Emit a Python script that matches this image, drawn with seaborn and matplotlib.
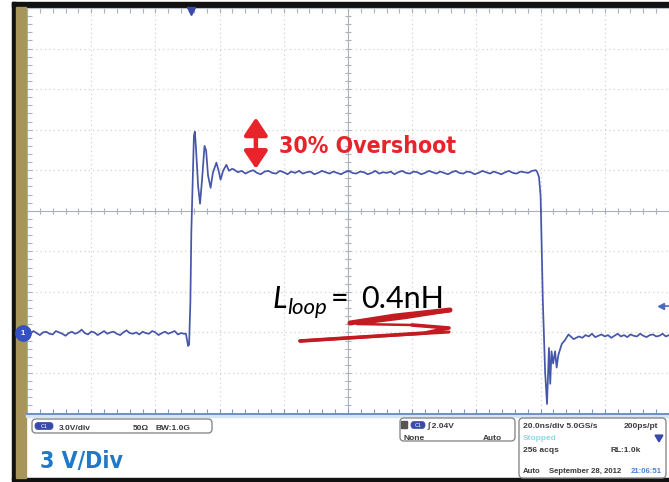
import numpy as np
import pandas as pd
import matplotlib
matplotlib.use("Agg")
import matplotlib.pyplot as plt
import seaborn as sns
from matplotlib import font_manager
from matplotlib.patches import Rectangle, FancyBboxPatch, FancyArrowPatch
from matplotlib.lines import Line2D
from matplotlib.transforms import Affine2D

# ---------------- scope settings ----------------
VOLTS_PER_DIV = 3.0
NS_PER_DIV = 20.0
N_HDIV = 10
N_VDIV = 10
TRIGGER_TIME_NS = -49.0
TRIGGER_LEVEL_V = 2.04
GROUND_V = -9.05

# ---------------- captured waveform (ns, V) ----------------
pre_t = np.linspace(-100.0, -51.0, 50)
pre_v = [-9.0, -9.1, -8.9, -9.05, -9.2, -9.0, -8.95, -9.1, -9.15, -8.9,
         -9.0, -9.1, -9.25, -9.05, -8.95, -9.1, -9.0, -8.8, -9.05, -9.15,
         -8.95, -9.0, -9.2, -9.05, -8.9, -9.1, -9.0, -8.95, -9.1, -9.2,
         -9.0, -8.85, -9.05, -9.1, -9.0, -9.15, -8.95, -9.05, -9.1, -8.9,
         -9.0, -9.2, -9.05, -8.95, -9.1, -9.0, -8.9, -9.15, -9.05, -9.1]

rise_t = [-50.5, -49.8, -49.5, -49.1, -48.8, -48.3, -48.0, -47.7, -47.4, -46.7,
          -46.1, -45.5, -44.7, -44.2, -43.6, -42.8, -42.1, -41.0, -40.3, -39.7,
          -38.9, -37.9, -37.1, -36.1]
rise_v = [-9.1, -10.0, -9.9, -6.7, -1.5, 2.96, 5.56, 5.85, 4.8, 1.85,
          0.52, 2.2, 4.8, 4.45, 2.6, 1.7, 2.8, 3.56, 2.96, 2.3,
          2.96, 3.4, 2.96, 3.1]

flat_t = np.linspace(-35.5, 58.5, 80)
flat_v = [3.05, 2.85, 2.95, 2.75, 2.9, 3.0, 2.8, 2.7, 2.9, 2.95,
          2.8, 2.75, 2.95, 2.85, 2.7, 2.9, 2.8, 2.95, 2.75, 2.85,
          2.9, 2.7, 2.8, 2.95, 2.85, 2.75, 2.9, 2.8, 2.7, 2.85,
          2.95, 2.8, 2.75, 2.9, 2.85, 2.7, 2.8, 2.95, 2.75, 2.85,
          2.8, 2.9, 2.7, 2.85, 2.95, 2.8, 2.75, 2.9, 2.85, 2.7,
          2.8, 2.95, 2.85, 2.75, 2.9, 2.8, 2.7, 2.85, 2.95, 2.8,
          2.75, 2.9, 2.85, 2.7, 2.8, 2.95, 2.85, 2.75, 2.9, 2.8,
          2.7, 2.85, 2.95, 2.8, 2.75, 2.9, 2.85, 2.8, 2.95, 3.0]

fall_t = [58.9, 59.5, 60.0, 60.3, 60.7, 61.4, 62.0, 62.6, 63.0, 63.4,
          63.9, 64.5, 65.0, 65.5, 66.6, 67.5, 68.7, 70.3, 71.9]
fall_v = [2.89, 2.5, 1.1, -2.2, -6.7, -11.9, -14.3, -10.15, -12.8, -10.4,
          -11.3, -10.4, -11.6, -10.7, -9.85, -9.6, -9.15, -9.5, -9.3]

post_t = np.linspace(73.0, 100.0, 28)
post_v = [-9.4, -9.2, -9.3, -9.1, -9.35, -9.25, -9.15, -9.3, -9.2, -9.4,
          -9.25, -9.1, -9.3, -9.2, -9.35, -9.15, -9.25, -9.3, -9.1, -9.25,
          -9.35, -9.2, -9.15, -9.3, -9.25, -9.1, -9.3, -9.2]

trace = pd.DataFrame({
    "t": np.concatenate([pre_t, rise_t, flat_t, fall_t, post_t]),
    "v": np.concatenate([pre_v, rise_v, flat_v, fall_v, post_v]),
})

# ---------------- styling ----------------
sns.set_style("white")
W, H = 669, 482
plt.rcParams["font.family"] = ["Liberation Sans", "DejaVu Sans"]


def condensed_bold():
    """Pick a narrow bold face if one is installed, else plain Liberation Sans."""
    for f in font_manager.fontManager.ttflist:
        narrowish = ("Narrow" in f.name or "Condensed" in f.name
                     or str(f.stretch) in ("condensed", "semi-condensed", "extra-condensed"))
        if narrowish and str(f.weight) in ("bold", "700"):
            return dict(family=[f.name, "DejaVu Sans"], fontstretch=f.stretch)
    return dict(family=["Liberation Sans", "DejaVu Sans"])


HEADLINE = condensed_bold()

TRACE = "#4656a8"
GRID = "#d2d2d2"
CENTER = "#aab2c0"
RED = "#e8232a"
SCRIBBLE = "#c41a22"
PANEL_TXT = "#3a3a3a"
BLUE_UI = "#3a4aa8"

fig = plt.figure(figsize=(W / 100, H / 100), dpi=100)
fig.patch.set_facecolor("white")
PX = Affine2D().scale(1 / W, -1 / H).translate(0, 1) + fig.transFigure
renderer = fig.canvas.get_renderer()


def fit_width(txt, target_px):
    """Scale a text's font size so that its drawn width is target_px."""
    w = txt.get_window_extent(renderer=renderer).width
    txt.set_fontsize(txt.get_fontsize() * target_px / w)


# frame of the screen capture
fig.add_artist(Rectangle((12, 2), W - 12, 4.5, transform=PX, color="#111111", zorder=-1))
fig.add_artist(Rectangle((12, 2), 4, 478, transform=PX, color="#111111", zorder=-1))
fig.add_artist(Rectangle((12, 477.5), W - 12, 5, transform=PX, color="#111111", zorder=-1))
fig.add_artist(Rectangle((16, 6.5), 9.5, 471, transform=PX, color="#a8955a", zorder=-1))
fig.add_artist(Rectangle((25.5, 414), W - 25.5, 2.5, transform=PX, color="#d6e4f3", zorder=-1))

# graticule
x0, y_top, y_bot = 27, 8, 413.5
ax = fig.add_axes([x0 / W, 1 - y_bot / H, (W - x0) / W, (y_bot - y_top) / H])
half_t = NS_PER_DIV * N_HDIV / 2
half_v = VOLTS_PER_DIV * N_VDIV / 2
ax.set_xlim(-half_t, half_t)
ax.set_ylim(-half_v, half_v)
ax.set_facecolor("white")

for k in range(1, N_HDIV):
    xv = -half_t + k * NS_PER_DIV
    if abs(xv) > 1e-9:
        ax.axvline(xv, color=GRID, lw=0.9, ls=(0, (1, 2.5)), zorder=1)
for k in range(1, N_VDIV):
    yv = -half_v + k * VOLTS_PER_DIV
    if abs(yv) > 1e-9:
        ax.axhline(yv, color=GRID, lw=0.9, ls=(0, (1, 2.5)), zorder=1)

ax.axhline(0, color=CENTER, lw=0.8, zorder=1)
ax.axvline(0, color=CENTER, lw=0.8, zorder=1)
minor_t = np.arange(-half_t, half_t + 0.01, NS_PER_DIV / 5)
minor_v = np.arange(-half_v, half_v + 0.01, VOLTS_PER_DIV / 5)
ax.plot(minor_t, np.zeros_like(minor_t), ls="none", marker="|", ms=5, mew=0.8, color=CENTER, zorder=1)
ax.plot(np.zeros_like(minor_v), minor_v, ls="none", marker="_", ms=5, mew=0.8, color=CENTER, zorder=1)
ax.plot(minor_t, np.full_like(minor_t, half_v), ls="none", marker="|", ms=7, mew=0.8, color=CENTER, zorder=1)
ax.plot(minor_t, np.full_like(minor_t, -half_v), ls="none", marker="|", ms=7, mew=0.8, color="#7f98c6", zorder=1)
ax.plot(np.full_like(minor_v, -half_t), minor_v, ls="none", marker="_", ms=7, mew=0.8, color=CENTER, zorder=1)

ax.spines["right"].set_visible(False)
ax.spines["left"].set_color("#9fb0c8")
ax.spines["top"].set_color("#b8c0cc")
ax.spines["bottom"].set_color("#6f8fc0")
ax.spines["bottom"].set_linewidth(1.4)
ax.set_xticks([])
ax.set_yticks([])

# waveform
sns.lineplot(data=trace, x="t", y="v", sort=False, estimator=None,
             color=TRACE, lw=1.25, ax=ax, zorder=5)
ax.set_xlabel("")
ax.set_ylabel("")

# trigger position, trigger level and ground markers
ax.plot([TRIGGER_TIME_NS], [half_v - 0.25], marker="v", ms=6, color=BLUE_UI, clip_on=False, zorder=6)
lvl = GROUND_V + TRIGGER_LEVEL_V
ax.plot([97.4, half_t], [lvl, lvl], color="#4a6ac0", lw=1.2, zorder=6)
ax.plot([97.4], [lvl], marker="<", ms=5, color="#4a6ac0", zorder=6)
ax.plot([-101.3], [GROUND_V], marker="o", ms=11, color="#3550c0", clip_on=False, zorder=7)
ax.text(-101.3, GROUND_V, "1", color="white", fontsize=5.5, fontweight="bold",
        ha="center", va="center", clip_on=False, zorder=8)

# overshoot annotation
plateau_v, peak_v = 3.1, 6.9
arrow = FancyArrowPatch((-28.7, plateau_v), (-28.7, peak_v),
                        arrowstyle="<|-|>,head_length=0.75,head_width=0.5",
                        mutation_scale=14, color=RED, lw=3.2,
                        shrinkA=0, shrinkB=0, zorder=7)
ax.add_patch(arrow)
t_over = fig.text(279, 153, "30% Overshoot", transform=PX, color=RED, fontsize=21,
                  fontweight="bold", va="baseline", ha="left", **HEADLINE)
fit_width(t_over, 177)

# loop inductance label
fig.text(272, 308, "L", transform=PX, fontsize=22, style="italic",
         family=["Lato", "DejaVu Sans"], va="baseline", color="black")
fig.text(287, 313.5, "loop", transform=PX, fontsize=16, style="italic",
         family=["Lato", "DejaVu Sans"], va="baseline", color="black")
fig.text(331, 308, "=", transform=PX, fontsize=22,
         family=["Lato", "DejaVu Sans"], va="baseline", color="black")
fig.text(361, 308, "0.4nH", transform=PX, fontsize=22,
         family=["Lato", "DejaVu Sans"], va="baseline", color="black")

strokes = [
    ([350, 395, 450], [323, 316, 310], 3.6),
    ([450, 405, 357, 412], [311, 318, 324, 325], 1.8),
    ([412, 449, 425, 300], [325, 328, 333, 341], 2.6),
    ([300, 380, 449], [341, 336, 332], 2.2),
]
for xs, ys, lw in strokes:
    fig.add_artist(Line2D(xs, ys, transform=PX, color=SCRIBBLE, lw=lw,
                          solid_capstyle="round", solid_joinstyle="round", zorder=9))


# status panel
def box(x, y, w, h):
    fig.add_artist(FancyBboxPatch((x, y), w, h, transform=PX,
                                  boxstyle="round,pad=0,rounding_size=4",
                                  fc="white", ec="#8a8a8a", lw=1.0, zorder=2))


def pill(x, y, w, h):
    fig.add_artist(FancyBboxPatch((x, y), w, h, transform=PX,
                                  boxstyle="round,pad=0,rounding_size=3",
                                  fc=BLUE_UI, ec=BLUE_UI, lw=0.5, zorder=3))
    fig.text(x + w / 2, y + h / 2 + 0.3, "C1", transform=PX, color="white",
             fontsize=4, ha="center", va="center", zorder=4)


def small(x, y, s, color=PANEL_TXT, ha="left", size=6.0):
    fig.text(x, y, s, transform=PX, color=color, fontsize=size,
             fontweight="bold", ha=ha, va="baseline", zorder=4)


box(32, 419, 180, 14)
pill(35, 422.5, 18, 7)
small(59, 430, "3.0V/div")
small(133, 430, "50Ω")
small(155, 430, "BW:1.0G")

box(400, 418, 115, 23)
fig.add_artist(Rectangle((400.5, 420.5), 6.5, 7.5, transform=PX, color="#555555", zorder=3))
pill(411, 421.5, 14, 7)
small(428, 428, "∫ 2.04V")
small(403, 440, "None")
small(502, 440, "Auto", ha="right")

box(519, 418, 147, 60)
small(523, 428, "20.0ns/div 5.0GS/s")
small(658, 428, "200ps/pt", ha="right")
small(523, 440, "Stopped", color="#8fd8ea")
small(523, 452, "256 acqs")
small(641, 452, "RL:1.0k", ha="right")
small(523, 473, "Auto", size=5.6)
small(549, 473, "September 28, 2012", size=5.6)
small(662, 473, "21:06:51", color="#4a7fd0", ha="right", size=5.6)
fig.add_artist(FancyArrowPatch((659, 434), (659, 446), transform=PX,
                               arrowstyle="-|>,head_length=0.5,head_width=0.3",
                               mutation_scale=8, color=BLUE_UI, lw=1.6, zorder=4))

t_div = fig.text(40, 468, "3 V/Div", transform=PX, color="#2078c8", fontsize=21,
                 fontweight="bold", va="baseline", ha="left", **HEADLINE)
fit_width(t_div, 83)

fig.savefig("out.png", dpi=100, facecolor="white")
